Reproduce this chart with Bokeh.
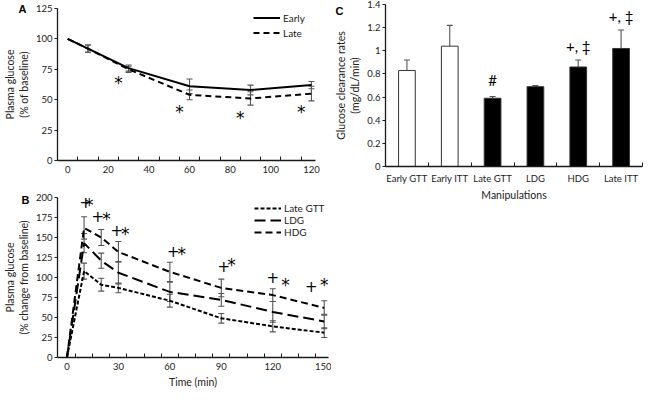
from bokeh.plotting import figure
from bokeh.models import (Range1d, FixedTicker, Whisker, ColumnDataSource, Legend,
                          LegendItem, Label, TeeHead)
from bokeh.layouts import row, column
from bokeh.embed import file_html
from bokeh.resources import INLINE
from bokeh.core.properties import value

# ---------------- data ----------------
# Panel A
a_time = [0, 10, 30, 60, 90, 120]
a_early = [100, 92, 76, 61, 58, 62]
a_early_err = [0, 3, 2.5, 6, 4, 3]
a_late = [100, 92, 75, 54, 51, 55]
a_late_err = [0, 3, 2.5, 4, 5.5, 6]
a_xticks = [0, 20, 40, 60, 80, 100, 120]
a_yticks = [0, 25, 50, 75, 100, 125]
a_star_x = [25, 55, 85, 115]
a_star_y = [64, 40, 35, 40]

# Panel B
b_time = [0, 10, 20, 30, 60, 90, 120, 150]
b_gtt = [0, 108, 91, 87, 71, 49, 39, 31]
b_gtt_err = [0, 10, 8, 6, 8, 6, 7, 6]
b_ldg = [0, 143, 121, 106, 82, 72, 57, 45]
b_ldg_err = [0, 12, 9.5, 14, 12, 8, 13, 9]
b_hdg = [0, 162, 150, 132, 107, 87, 78, 62]
b_hdg_err = [0, 14, 10, 13, 12, 11, 8, 9]
b_xticks = [0, 30, 60, 90, 120, 150]
b_yticks = [0, 25, 50, 75, 100, 125, 150, 175, 200]
b_plus_x = [11, 18, 29, 62, 91.5, 120, 142.5]
b_plus_y = [194, 177, 159, 133, 115, 101, 90]
b_star_x = [13, 23, 34, 67, 96, 127.5, 150]
b_star_y = [191, 173, 155, 130, 116, 91, 91]

# Panel C
c_cats = ["Early GTT", "Early ITT", "Late GTT", "LDG", "HDG", "Late ITT"]
c_vals = [0.83, 1.04, 0.59, 0.69, 0.86, 1.02]
c_err = [0.09, 0.18, 0.015, 0.01, 0.06, 0.16]
c_fill = ["white", "white", "black", "black", "black", "black"]
c_marks = ["#", "+, \u2021", "+, \u2021"]
c_mark_cat = [2, 4, 5]
c_mark_y = [0.75, 1.04, 1.30]
c_yticks = [0, 0.2, 0.4, 0.6, 0.8, 1.0, 1.2, 1.4]
c_ytick_labels = ["0", "0.2", "0.4", "0.6", "0.8", "1", "1.2", "1.4"]

FONT = "Lato"
INK = "#1a1a1a"
ERR = "#555555"


def base_fig(**kw):
    p = figure(output_backend="svg", toolbar_location=None, **kw)
    p.outline_line_color = None
    p.xgrid.visible = False
    p.ygrid.visible = False
    p.background_fill_color = "white"
    p.border_fill_color = "white"
    for ax in (p.xaxis[0], p.yaxis[0]):
        ax.axis_line_color = INK
        ax.axis_line_width = 1.3
        ax.major_tick_line_color = INK
        ax.minor_tick_line_color = INK
        ax.major_label_text_font = FONT
        ax.major_label_text_font_size = "9.5px"
        ax.major_label_text_color = "#222"
        ax.axis_label_text_font = FONT
        ax.axis_label_text_font_size = "10.5px"
        ax.axis_label_text_font_style = "normal"
        ax.axis_label_text_color = "#222"
    y = p.yaxis[0]
    y.major_tick_in = 0
    y.major_tick_out = 3
    y.minor_tick_line_color = None
    y.major_label_standoff = 2
    y.axis_label_standoff = 3
    return p


def whiskers(p, xs, ys, errs, upper_only=False):
    pts = [(x, v, e) for x, v, e in zip(xs, ys, errs) if e > 0]
    src = ColumnDataSource(dict(
        x=[t[0] for t in pts],
        u=[t[1] + t[2] for t in pts],
        l=[t[1] if upper_only else t[1] - t[2] for t in pts]))
    w = Whisker(base="x", upper="u", lower="l", source=src,
                line_color=ERR, line_width=1.1,
                upper_head=TeeHead(size=6, line_color=ERR, line_width=1.1),
                lower_head=None if upper_only else TeeHead(size=6, line_color=ERR, line_width=1.1))
    p.add_layout(w)


def panel_letter(p, txt, x, y, side):
    p.add_layout(Label(x=x, y=y, x_units="screen", y_units="screen", text=txt,
                       text_font="Liberation Sans", text_font_style="bold",
                       text_font_size="11px", text_color="black",
                       text_align="left", text_baseline="middle"), side)


def x_minor_axis(p, ticks, minor):
    ax = p.xaxis[0]
    ax.ticker = FixedTicker(ticks=ticks, minor_ticks=minor)
    ax.major_tick_in = 0
    ax.major_tick_out = 0
    ax.minor_tick_in = 4
    ax.minor_tick_out = 0
    ax.major_label_standoff = 5


def marks(p, xs, ys, txt, size):
    p.text(x=xs, y=ys, text=[txt] * len(xs), text_font=value("DejaVu Sans"),
           text_font_size=size, text_align="center", text_baseline="middle",
           text_color="black")


# ---------------- Panel A ----------------
pA = base_fig(frame_width=258, frame_height=152, x_range=Range1d(-5, 122), y_range=Range1d(0, 125),
              min_border_left=51, min_border_right=13, min_border_top=8, min_border_bottom=21)
x_minor_axis(pA, a_xticks, list(range(5, 120, 10)))
pA.yaxis[0].ticker = FixedTicker(ticks=a_yticks)
pA.yaxis[0].axis_label = "Plasma glucose\n(% of baseline)"
rA1 = pA.line(a_time, a_early, line_color="black", line_width=2)
rA2 = pA.line(a_time, a_late, line_color="black", line_width=2, line_dash="6 4")
whiskers(pA, a_time, a_early, a_early_err)
whiskers(pA, a_time, a_late, a_late_err)
marks(pA, a_star_x, a_star_y, "*", "17px")
legA = Legend(items=[LegendItem(label="Early", renderers=[rA1]),
                     LegendItem(label="Late", renderers=[rA2])],
              location=(196, 121), border_line_color=None, background_fill_alpha=0,
              label_text_font=FONT, label_text_font_size="10px", label_text_color="#222",
              glyph_width=27, glyph_height=13, label_height=13, spacing=2, padding=0,
              margin=0, label_standoff=3)
pA.add_layout(legA)
panel_letter(pA, "A", -297, 152, "right")

# ---------------- Panel B ----------------
pB = base_fig(frame_width=271, frame_height=160, x_range=Range1d(-5.5, 152.5), y_range=Range1d(0, 200),
              min_border_left=48, min_border_right=3, min_border_top=16, min_border_bottom=27)
x_minor_axis(pB, b_xticks, list(range(5, 150, 10)))
pB.xaxis[0].axis_label = "Time (min)"
pB.xaxis[0].axis_label_standoff = 3
pB.yaxis[0].ticker = FixedTicker(ticks=b_yticks)
pB.yaxis[0].axis_label = "Plasma glucose\n(% change from baseline)"
rB1 = pB.line(b_time, b_gtt, line_color="black", line_width=2, line_dash="4 2")
rB2 = pB.line(b_time, b_ldg, line_color="black", line_width=2, line_dash="11 5")
rB3 = pB.line(b_time, b_hdg, line_color="black", line_width=2, line_dash="7 4")
whiskers(pB, b_time, b_gtt, b_gtt_err)
whiskers(pB, b_time, b_ldg, b_ldg_err)
whiskers(pB, b_time, b_hdg, b_hdg_err)
marks(pB, b_plus_x, b_plus_y, "+", "15px")
marks(pB, b_star_x, b_star_y, "*", "17px")
legB = Legend(items=[LegendItem(label="Late GTT", renderers=[rB1]),
                     LegendItem(label="LDG", renderers=[rB2]),
                     LegendItem(label="HDG", renderers=[rB3])],
              location=(197, 119), border_line_color=None, background_fill_alpha=0,
              label_text_font=FONT, label_text_font_size="10px", label_text_color="#222",
              glyph_width=27, glyph_height=12, label_height=12, spacing=0, padding=0,
              margin=0, label_standoff=3)
pB.add_layout(legB)
panel_letter(pB, "B", -36, -2, "above")

# ---------------- Panel C ----------------
pC = base_fig(frame_width=257, frame_height=162, x_range=Range1d(0, len(c_cats)), y_range=Range1d(0, 1.4),
              min_border_left=53, min_border_right=2, min_border_top=4, min_border_bottom=218)
c_x = [i + 0.5 for i in range(len(c_cats))]
axC = pC.xaxis[0]
axC.ticker = FixedTicker(ticks=c_x, minor_ticks=list(range(len(c_cats) + 1)))
axC.major_label_overrides = {x: c for x, c in zip(c_x, c_cats)}
axC.major_tick_in = 0
axC.major_tick_out = 0
axC.minor_tick_in = 4
axC.minor_tick_out = 0
axC.major_label_standoff = 6
axC.axis_label = "Manipulations"
axC.axis_label_standoff = 2
pC.yaxis[0].ticker = FixedTicker(ticks=c_yticks)
pC.yaxis[0].major_label_overrides = {t: s for t, s in zip(c_yticks, c_ytick_labels)}
pC.yaxis[0].axis_label = "Glucose clearance rates\n(mg/dL/min)"
pC.vbar(x=c_x, top=c_vals, width=0.39, fill_color=c_fill, line_color="#333333", line_width=1)
whiskers(pC, c_x, c_vals, c_err, upper_only=True)
pC.text(x=[c_x[i] for i in c_mark_cat], y=c_mark_y, text=c_marks, text_font=value(FONT),
        text_font_size="15px", text_align="center", text_baseline="middle", text_color="black")
panel_letter(pC, "C", -50, 205, "below")

layout = row(column(pA, pB), pC)
open("out.html", "w").write(file_html(layout, INLINE))
